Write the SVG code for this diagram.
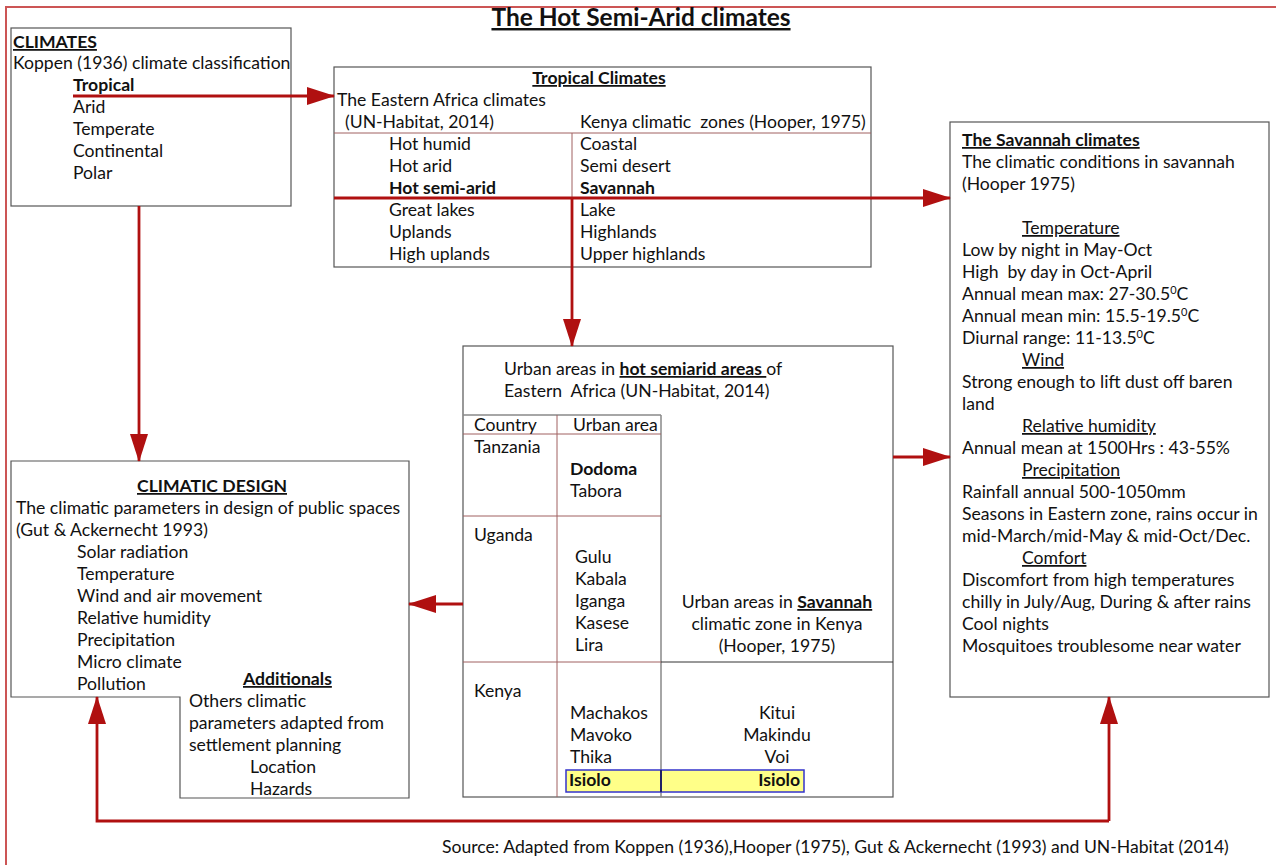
<svg xmlns="http://www.w3.org/2000/svg" width="1276" height="865" viewBox="0 0 1276 865">
  <style>
    text { font-family: Lato, "Open Sans", "Liberation Sans", sans-serif; font-size: 17.6px; fill: #111; white-space: pre; }
    .b { font-weight: bold; }
    .u { text-decoration: underline; }
    .mid { text-anchor: middle; }
    .end { text-anchor: end; }
    .box { fill: #fff; stroke: #555; stroke-width: 1.2; }
    .thin { stroke: #a06060; stroke-width: 1; fill: none; }
    .grey { stroke: #888; stroke-width: 1.5; fill: none; }
    .conn { stroke: #b01010; stroke-width: 2.8; fill: none; }
    .frame { stroke: #cc5555; stroke-width: 2; fill: none; }
    .sup { font-size: 11px; }
  </style>
  <defs>
    <marker id="arrow" viewBox="0 0 28 18" refX="27" refY="9" markerWidth="28" markerHeight="18" markerUnits="userSpaceOnUse" orient="auto">
      <path d="M0,0 L28,9 L0,18 z" fill="#b01010"/>
    </marker>
  </defs>

  <rect width="1276" height="865" fill="#fff"/>

  <!-- page frame -->
  <path class="frame" d="M6,865 V7 H1276"/>

  <text class="b u mid" x="641" y="26" style="font-size:24.5px">The Hot Semi-Arid climates</text>

  <!-- CLIMATES -->
  <g id="climates">
    <rect class="box" x="11" y="28" width="280" height="178"/>
    <text class="b u" x="13" y="48">CLIMATES</text>
    <text x="13" y="69">Koppen (1936) climate classification</text>
    <text class="b" x="73" y="91">Tropical</text>
    <text x="73" y="113">Arid</text>
    <text x="73" y="135">Temperate</text>
    <text x="73" y="157">Continental</text>
    <text x="73" y="179">Polar</text>
  </g>

  <!-- Tropical climates table -->
  <g id="tropical">
    <rect class="box" x="334" y="67" width="537" height="200"/>
    <text class="b u mid" x="599" y="84">Tropical Climates</text>
    <text x="337" y="106">The Eastern Africa climates</text>
    <text x="345" y="128">(UN-Habitat, 2014)</text>
    <text x="580" y="128">Kenya climatic  zones (Hooper, 1975)</text>
    <line class="thin" x1="334" y1="133" x2="871" y2="133"/>
    <line class="thin" x1="572" y1="133" x2="572" y2="267"/>
    <text x="389" y="150">Hot humid</text>
    <text x="389" y="172">Hot arid</text>
    <text class="b" x="389" y="194">Hot semi-arid</text>
    <text x="389" y="216">Great lakes</text>
    <text x="389" y="238">Uplands</text>
    <text x="389" y="260">High uplands</text>
    <text x="580" y="150">Coastal</text>
    <text x="580" y="172">Semi desert</text>
    <text class="b" x="580" y="194">Savannah</text>
    <text x="580" y="216">Lake</text>
    <text x="580" y="238">Highlands</text>
    <text x="580" y="260">Upper highlands</text>
  </g>

  <!-- Savannah climates -->
  <g id="savannah">
    <rect class="box" x="950" y="122" width="319" height="575"/>
    <text class="b u" x="962" y="146">The Savannah climates</text>
    <text x="962" y="168">The climatic conditions in savannah</text>
    <text x="962" y="190">(Hooper 1975)</text>
    <text class="u" x="1022" y="234">Temperature</text>
    <text x="962" y="256">Low by night in May-Oct</text>
    <text x="962" y="278">High  by day in Oct-April</text>
    <text x="962" y="300">Annual mean max: 27-30.5<tspan class="sup" dy="-6">0</tspan><tspan dy="6">C</tspan></text>
    <text x="962" y="322">Annual mean min: 15.5-19.5<tspan class="sup" dy="-6">0</tspan><tspan dy="6">C</tspan></text>
    <text x="962" y="344">Diurnal range: 11-13.5<tspan class="sup" dy="-6">0</tspan><tspan dy="6">C</tspan></text>
    <text class="u" x="1022" y="366">Wind</text>
    <text x="962" y="388">Strong enough to lift dust off baren</text>
    <text x="962" y="410">land</text>
    <text class="u" x="1022" y="432">Relative humidity</text>
    <text x="962" y="454">Annual mean at 1500Hrs : 43-55%</text>
    <text class="u" x="1022" y="476">Precipitation</text>
    <text x="962" y="498">Rainfall annual 500-1050mm</text>
    <text x="962" y="520">Seasons in Eastern zone, rains occur in</text>
    <text x="962" y="542">mid-March/mid-May &amp; mid-Oct/Dec.</text>
    <text class="u" x="1022" y="564">Comfort</text>
    <text x="962" y="586">Discomfort from high temperatures</text>
    <text x="962" y="608">chilly in July/Aug, During &amp; after rains</text>
    <text x="962" y="630">Cool nights</text>
    <text x="962" y="652">Mosquitoes troublesome near water</text>
  </g>

  <!-- Urban areas -->
  <g id="urban">
    <rect class="box" x="463" y="346" width="430" height="451"/>
    <text x="504" y="375">Urban areas in <tspan class="b u">hot semiarid areas </tspan>of</text>
    <text x="504" y="397">Eastern  Africa (UN-Habitat, 2014)</text>
    <line class="grey" x1="463" y1="415" x2="661" y2="415"/>
    <line class="grey" x1="661" y1="415" x2="661" y2="797"/>
    <line class="thin" x1="557" y1="415" x2="557" y2="797"/>
    <line class="thin" x1="463" y1="434" x2="661" y2="434"/>
    <line class="thin" x1="463" y1="516" x2="661" y2="516"/>
    <line class="thin" x1="463" y1="662" x2="661" y2="662"/>
    <line x1="661" y1="662" x2="893" y2="662" stroke="#333" stroke-width="1"/>
    <text x="474" y="431">Country</text>
    <text x="573" y="431">Urban area</text>
    <text x="474" y="453">Tanzania</text>
    <text class="b" x="570" y="475">Dodoma</text>
    <text x="570" y="497">Tabora</text>
    <text x="474" y="541">Uganda</text>
    <text x="575" y="563">Gulu</text>
    <text x="575" y="585">Kabala</text>
    <text x="575" y="607">Iganga</text>
    <text x="575" y="629">Kasese</text>
    <text x="575" y="651">Lira</text>
    <text class="mid" x="777" y="608">Urban areas in <tspan class="b u">Savannah</tspan></text>
    <text class="mid" x="777" y="630">climatic zone in Kenya</text>
    <text class="mid" x="777" y="652">(Hooper, 1975)</text>
    <text x="474" y="697">Kenya</text>
    <text x="570" y="719">Machakos</text>
    <text x="570" y="741">Mavoko</text>
    <text x="570" y="763">Thika</text>
    <text class="mid" x="777" y="719">Kitui</text>
    <text class="mid" x="777" y="741">Makindu</text>
    <text class="mid" x="777" y="763">Voi</text>
    <rect x="566" y="770" width="238" height="22" fill="#ffff88" stroke="#3333cc" stroke-width="1.5"/>
    <line x1="661" y1="770" x2="661" y2="792" stroke="#222266" stroke-width="2"/>
    <text class="b" x="569" y="786">Isiolo</text>
    <text class="b end" x="800" y="786">Isiolo</text>
  </g>

  <!-- Climatic design -->
  <g id="design">
    <path class="box" d="M11,461 H409 V798 H180 V697 H11 Z"/>
    <text class="b u mid" x="212" y="492">CLIMATIC DESIGN</text>
    <text x="16" y="514">The climatic parameters in design of public spaces</text>
    <text x="16" y="536">(Gut &amp; Ackernecht 1993)</text>
    <text x="77" y="558">Solar radiation</text>
    <text x="77" y="580">Temperature</text>
    <text x="77" y="602">Wind and air movement</text>
    <text x="77" y="624">Relative humidity</text>
    <text x="77" y="646">Precipitation</text>
    <text x="77" y="668">Micro climate</text>
    <text x="77" y="690">Pollution</text>
    <text class="b u" x="243" y="685">Additionals</text>
    <text x="189" y="707">Others climatic</text>
    <text x="189" y="729">parameters adapted from</text>
    <text x="189" y="751">settlement planning</text>
    <text x="250" y="773">Location</text>
    <text x="250" y="795">Hazards</text>
  </g>

  <!-- connectors -->
  <g id="connectors">
    <path class="conn" d="M73,96 H334" marker-end="url(#arrow)"/>
    <path class="conn" d="M139,206 V461" marker-end="url(#arrow)"/>
    <path class="conn" d="M334,198 H950" marker-end="url(#arrow)"/>
    <path class="conn" d="M572,198 V346" marker-end="url(#arrow)"/>
    <path class="conn" d="M893,457 H950" marker-end="url(#arrow)"/>
    <path class="conn" d="M463,604 H409" marker-end="url(#arrow)"/>
    <path class="conn" d="M1109,821 V697" marker-end="url(#arrow)"/>
    <path class="conn" d="M1109,821 H97 V697" marker-end="url(#arrow)"/>
  </g>

  <text x="442" y="853">Source: Adapted from Koppen (1936),Hooper (1975), Gut &amp; Ackernecht (1993) and UN-Habitat (2014)</text>
</svg>
